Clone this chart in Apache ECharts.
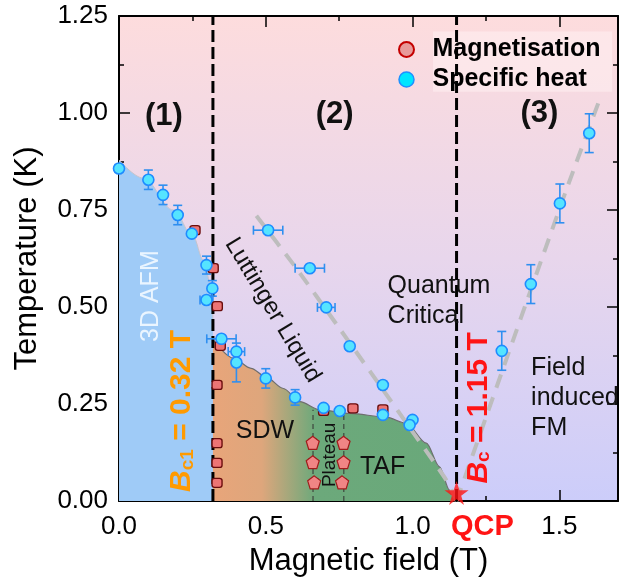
<!DOCTYPE html>
<html>
<head>
<meta charset="utf-8">
<script src="https://cdn.jsdelivr.net/npm/echarts@6/dist/echarts.min.js"></script>
<style>
  html, body { margin: 0; padding: 0; background: #ffffff; }
  #chart { width: 619px; height: 585px; }
</style>
</head>
<body>
<div id="chart"></div>
<script>
// ---- Specific heat anomalies: field (T), temperature (K) and their error bars ----
const heatField    = [0.00, 0.10, 0.15, 0.20, 0.248, 0.298, 0.318, 0.298, 0.349, 0.40, 0.40, 0.50, 0.60, 0.697, 0.752, 0.508, 0.65, 0.706, 0.786, 0.899, 0.899, 1.00, 0.99, 1.304, 1.403, 1.502, 1.602];
const heatTemp     = [0.857, 0.828, 0.789, 0.737, 0.689, 0.608, 0.548, 0.518, 0.418, 0.385, 0.357, 0.316, 0.267, 0.240, 0.232, 0.698, 0.600, 0.499, 0.399, 0.299, 0.222, 0.209, 0.196, 0.387, 0.559, 0.767, 0.948];
const heatFieldErr = [0, 0, 0, 0, 0, 0, 0, 0.022, 0.05, 0.028, 0, 0, 0, 0, 0, 0.05, 0.05, 0.03, 0.012, 0.012, 0, 0, 0, 0, 0, 0, 0];
const heatTempErr  = [0.01, 0.025, 0.025, 0.025, 0.008, 0.023, 0.02, 0, 0, 0, 0.05, 0.025, 0.02, 0, 0, 0, 0, 0, 0, 0, 0, 0, 0, 0.05, 0.05, 0.05, 0.05];

// ---- Magnetisation anomalies ----
const magField = [0.259, 0.321, 0.335, 0.345, 0.334, 0.334, 0.334, 0.334, 0.697, 0.797, 0.899];
const magTemp  = [0.698, 0.600, 0.502, 0.400, 0.299, 0.149, 0.098, 0.047, 0.232, 0.239, 0.236];
const magFieldErr = [0.008, 0.008, 0.008, 0.008, 0.008, 0.008, 0.008, 0.008, 0.008, 0.008, 0.008];

// Magnetisation plateau edges
const plateauField = [0.66, 0.66, 0.665, 0.765, 0.765, 0.76];
const plateauTemp  = [0.150, 0.100, 0.048, 0.150, 0.100, 0.048];
const plateauFieldErr = [0.012, 0.012, 0.012, 0.012, 0.012, 0.012];

// ---- Phase boundaries and crossovers ----
const afmEdgeField = [0.00, 0.083, 0.185, 0.253, 0.287, 0.315, 0.32];
const afmEdgeTemp  = [0.879, 0.832, 0.750, 0.681, 0.621, 0.552, 0.47];

const orderedEdgeField = [0.32, 0.39, 0.45, 0.50, 0.56, 0.616, 0.684, 0.786, 0.91, 0.979, 1.047, 1.092, 1.126, 1.15];
const orderedEdgeTemp  = [0.415, 0.368, 0.342, 0.320, 0.290, 0.256, 0.235, 0.226, 0.216, 0.200, 0.149, 0.088, 0.028, 0.00];

const luttingerField = [0.468, 0.60, 0.75, 0.90, 0.98, 1.115, 1.15];
const luttingerTemp  = [0.735, 0.604, 0.446, 0.286, 0.200, 0.054, 0.00];

const fmField = [1.15, 1.387, 1.523, 1.64];
const fmTemp  = [0.00, 0.510, 0.800, 1.040];

// Critical fields (T) and plateau boundaries
const Bc1 = 0.32;
const Bc = 1.15;
const plateauEdges = [0.661, 0.766];
const plateauTop = 0.235;

// Axis ranges
const fieldMax = 1.7;
const tempMax = 1.25;

const FONT = '"Liberation Sans", Arial, Helvetica, sans-serif';

const chart = echarts.init(document.getElementById('chart'), null, { renderer: 'canvas' });

const pairs = (xs, ys) => xs.map((x, i) => [x, ys[i]]);
const starPath = 'path://M50,0 L61.8,35.4 L99,35.4 L68.9,57.3 L80.3,92.7 L50,70.8 L19.7,92.7 L31.1,57.3 L1,35.4 L38.2,35.4 Z';
const pentagonPath = 'path://M0,-1 L0.951,-0.309 L0.588,0.809 L-0.588,0.809 L-0.951,-0.309 Z';

// Error bars drawn through the grid's own coordinate system
function errorBars(color, capHalf, width) {
  return function (params, api) {
    const x = api.value(0), y = api.value(1), ex = api.value(2), ey = api.value(3);
    const style = { stroke: color, lineWidth: width };
    const kids = [];
    if (ey > 0) {
      const a = api.coord([x, y + ey]), b = api.coord([x, y - ey]);
      kids.push({ type: 'line', shape: { x1: a[0], y1: a[1], x2: b[0], y2: b[1] }, style });
      kids.push({ type: 'line', shape: { x1: a[0] - capHalf, y1: a[1], x2: a[0] + capHalf, y2: a[1] }, style });
      kids.push({ type: 'line', shape: { x1: b[0] - capHalf, y1: b[1], x2: b[0] + capHalf, y2: b[1] }, style });
    }
    if (ex > 0) {
      const a = api.coord([x - ex, y]), b = api.coord([x + ex, y]);
      kids.push({ type: 'line', shape: { x1: a[0], y1: a[1], x2: b[0], y2: b[1] }, style });
      kids.push({ type: 'line', shape: { x1: a[0], y1: a[1] - capHalf, x2: a[0], y2: a[1] + capHalf }, style });
      kids.push({ type: 'line', shape: { x1: b[0], y1: b[1] - capHalf, x2: b[0], y2: b[1] + capHalf }, style });
    }
    return { type: 'group', children: kids };
  };
}

const axisBlack = { show: true, onZero: false, lineStyle: { color: '#000', width: 2 } };
const xCommon = { type: 'value', min: 0, max: fieldMax, splitLine: { show: false } };
const yCommon = { type: 'value', min: 0, max: tempMax, interval: 0.25, splitLine: { show: false } };

const option = {
  animation: false,
  grid: {
    left: 119, right: 1, top: 16, bottom: 84,
    show: true, borderWidth: 0,
    backgroundColor: new echarts.graphic.LinearGradient(0, 0, 0, 1, [
      { offset: 0, color: '#fddcdd' },
      { offset: 0.5, color: '#e8d6ec' },
      { offset: 1, color: '#cccdfa' }
    ])
  },
  legend: {
    orient: 'vertical', left: 393, top: 32, itemGap: 5,
    itemWidth: 28, itemHeight: 15,
    textStyle: { fontFamily: FONT, fontSize: 25, fontWeight: 'bold', color: '#000', lineHeight: 25, padding: [0, 0, 0, 7] },
    data: [
      { name: 'Magnetisation', icon: 'circle', itemStyle: { color: '#e89a9a', borderColor: '#c40000', borderWidth: 2 } },
      { name: 'Specific heat', icon: 'circle', itemStyle: { color: '#00e5ff', borderColor: '#1e90ff', borderWidth: 1.5 } }
    ]
  },
  xAxis: [
    Object.assign({}, xCommon, {
      position: 'bottom', interval: 0.5,
      axisLine: axisBlack,
      axisTick: { show: true, inside: true, length: 11, lineStyle: { color: '#000', width: 1.5 } },
      axisLabel: { margin: 13, fontFamily: FONT, fontSize: 26, color: '#000', showMaxLabel: false,
                   formatter: v => (Math.abs(v / 0.5 - Math.round(v / 0.5)) < 1e-6 ? v.toFixed(1) : '') },
      name: 'Magnetic field (T)', nameLocation: 'middle', nameGap: 45,
      nameTextStyle: { fontFamily: FONT, fontSize: 31, color: '#000' }
    }),
    Object.assign({}, xCommon, {
      position: 'bottom', interval: 0.25,
      axisLine: { show: false, onZero: false },
      axisTick: { show: true, inside: true, length: 5, lineStyle: { color: '#000', width: 1.5 } },
      axisLabel: { show: false }
    }),
    Object.assign({}, xCommon, {
      position: 'top', interval: 0.5,
      axisLine: axisBlack,
      axisTick: { show: true, inside: true, length: 11, lineStyle: { color: '#000', width: 1.5 } },
      axisLabel: { show: false }
    }),
    Object.assign({}, xCommon, {
      position: 'top', interval: 0.25,
      axisLine: { show: false, onZero: false },
      axisTick: { show: true, inside: true, length: 5, lineStyle: { color: '#000', width: 1.5 } },
      axisLabel: { show: false }
    })
  ],
  yAxis: [
    Object.assign({}, yCommon, {
      position: 'left',
      axisLine: axisBlack,
      axisTick: { show: true, inside: true, length: 11, lineStyle: { color: '#000', width: 1.5 } },
      minorTick: { show: true, splitNumber: 2, length: 5, lineStyle: { color: '#000', width: 1.5 } },
      axisLabel: { margin: 11, fontFamily: FONT, fontSize: 26, color: '#000', formatter: v => v.toFixed(2) },
      name: 'Temperature (K)', nameLocation: 'middle', nameGap: 76,
      nameTextStyle: { fontFamily: FONT, fontSize: 31, color: '#000' }
    }),
    Object.assign({}, yCommon, {
      position: 'right',
      axisLine: axisBlack,
      axisTick: { show: true, inside: true, length: 11, lineStyle: { color: '#000', width: 1.5 } },
      minorTick: { show: true, splitNumber: 2, length: 5, lineStyle: { color: '#000', width: 1.5 } },
      axisLabel: { show: false }
    })
  ],
  series: [
    // 3D AFM phase
    {
      type: 'line', name: 'afm', data: pairs(afmEdgeField, afmEdgeTemp),
      smooth: 0.35, smoothMonotone: 'x', symbol: 'none', silent: true, z: 1,
      lineStyle: { color: '#c4c4cc', width: 1 },
      areaStyle: { color: '#9fcbf7', opacity: 1 }
    },
    // SDW / TAF ordered phase
    {
      type: 'line', name: 'ordered', data: pairs(orderedEdgeField, orderedEdgeTemp),
      smooth: 0.3, smoothMonotone: 'x', symbol: 'none', silent: true, z: 1,
      lineStyle: { color: '#6e6e6e', width: 1.2 },
      areaStyle: {
        opacity: 1,
        color: new echarts.graphic.LinearGradient(0, 0, 1, 0, [
          { offset: 0, color: '#e8a57a' },
          { offset: 0.2, color: '#dea67c' },
          { offset: 0.42, color: '#6ca97b' },
          { offset: 1, color: '#69a87a' }
        ])
      }
    },
    // Crossover lines
    {
      type: 'line', name: 'luttinger', data: pairs(luttingerField, luttingerTemp),
      smooth: 0.2, symbol: 'none', silent: true, z: 2,
      lineStyle: { color: '#bdbdbd', width: 4, type: [14, 10] }
    },
    {
      type: 'line', name: 'fm', data: pairs(fmField, fmTemp),
      smooth: 0.2, symbol: 'none', silent: true, z: 2,
      lineStyle: { color: '#bdbdbd', width: 4, type: [14, 10] }
    },
    // Critical fields
    {
      type: 'line', name: 'Bc1', data: [[Bc1, 0], [Bc1, tempMax]], symbol: 'none', silent: true, z: 3,
      lineStyle: { color: '#000', width: 3, type: [12, 5] }
    },
    {
      type: 'line', name: 'Bc', data: [[Bc, 0], [Bc, tempMax]], symbol: 'none', silent: true, z: 3,
      lineStyle: { color: '#000', width: 3, type: [12, 5] }
    },
    // Plateau boundaries
    {
      type: 'line', name: 'plateauL', data: [[plateauEdges[0], 0], [plateauEdges[0], plateauTop]], symbol: 'none', silent: true, z: 3,
      lineStyle: { color: '#333', width: 1, type: [5, 4] }
    },
    {
      type: 'line', name: 'plateauR', data: [[plateauEdges[1], 0], [plateauEdges[1], plateauTop]], symbol: 'none', silent: true, z: 3,
      lineStyle: { color: '#333', width: 1, type: [5, 4] }
    },
    // Error bars
    {
      type: 'custom', name: 'magErr', z: 4, silent: true,
      renderItem: errorBars('#4a0d0d', 4, 1.5),
      encode: { x: 0, y: 1 },
      data: magField.map((f, i) => [f, magTemp[i], magFieldErr[i], 0]).concat(
            plateauField.map((f, i) => [f, plateauTemp[i], plateauFieldErr[i], 0]))
    },
    {
      type: 'custom', name: 'heatErr', z: 4, silent: true,
      renderItem: errorBars('#2f8ff0', 4.5, 1.6),
      encode: { x: 0, y: 1 },
      data: heatField.map((f, i) => [f, heatTemp[i], heatFieldErr[i], heatTempErr[i]])
    },
    // Data points
    {
      type: 'scatter', name: 'Magnetisation', z: 5,
      symbol: 'roundRect', symbolSize: [10, 9],
      itemStyle: { color: '#ec7474', borderColor: '#6a0c0c', borderWidth: 1.3, opacity: 1 },
      data: pairs(magField, magTemp)
    },
    {
      type: 'scatter', name: 'Magnetisation', z: 5,
      symbol: pentagonPath, symbolSize: 13,
      itemStyle: { color: '#f08585', borderColor: '#a01c1c', borderWidth: 1.2, opacity: 1 },
      data: pairs(plateauField, plateauTemp)
    },
    {
      type: 'scatter', name: 'Specific heat', z: 6,
      symbol: 'circle', symbolSize: 11,
      itemStyle: { color: '#55e4ff', borderColor: '#1e8cff', borderWidth: 1.6, opacity: 1 },
      data: pairs(heatField, heatTemp)
    },
    // Quantum critical point
    {
      type: 'scatter', name: 'QCP', z: 7, clip: false, silent: true,
      symbol: starPath, symbolSize: 24, symbolOffset: [0, -8],
      itemStyle: { color: '#ff1414' },
      data: [[Bc, 0]]
    }
  ]
};

chart.setOption(option);

// Annotations, anchored in field / temperature units
const notes = [
  { at: [0.153, 0.99], text: '(1)', font: 'bold', size: 31, color: '#111' },
  { at: [0.735, 0.995], text: '(2)', font: 'bold', size: 31, color: '#111' },
  { at: [1.432, 1.0], text: '(3)', font: 'bold', size: 31, color: '#111' },
  { at: [0.11, 0.528], text: '3D AFM', size: 25, color: '#eaf5ff', rot: 90 },
  { at: [0.524, 0.492], text: 'Luttinger Liquid', size: 24, color: '#111', rot: -59 },
  { at: [0.915, 0.514], text: 'Quantum\nCritical', size: 25, color: '#111', align: 'left', lh: 30 },
  { at: [1.404, 0.265], text: 'Field\ninduced\nFM', size: 25, color: '#111', align: 'left', lh: 30 },
  { at: [0.497, 0.179], text: 'SDW', size: 25, color: '#111' },
  { at: [0.898, 0.088], text: 'TAF', size: 25, color: '#111' },
  { at: [0.718, 0.119], text: 'Plateau', size: 19, color: '#111', rot: 90 },
  { at: [1.238, -0.067], text: 'QCP', font: 'bold', size: 29, color: '#ff1414' }
];

function buildGraphics() {
  const px = p => chart.convertToPixel({ gridIndex: 0 }, p);
  const els = notes.map(n => {
    const p = px(n.at);
    return {
      type: 'text', x: p[0], y: p[1], z: 100, silent: true,
      rotation: (n.rot || 0) * Math.PI / 180,
      style: {
        text: n.text, fill: n.color, align: n.align || 'center', verticalAlign: 'middle',
        font: (n.font || 'normal') + ' ' + n.size + 'px ' + FONT,
        lineHeight: n.lh || n.size
      }
    };
  });
  // Critical-field labels with subscripts
  const criticalLabel = (at, sub, rest, color) => {
    const p = px(at);
    return {
      type: 'text', x: p[0], y: p[1], z: 100, silent: true, rotation: Math.PI / 2,
      style: {
        text: '{b|B}{s|' + sub + '}{n|' + rest + '}',
        align: 'center', verticalAlign: 'middle',
        rich: {
          b: { fill: color, fontFamily: FONT, fontSize: 30, fontWeight: 'bold', fontStyle: 'italic', lineHeight: 32, verticalAlign: 'bottom' },
          s: { fill: color, fontFamily: FONT, fontSize: 19, fontWeight: 'bold', lineHeight: 24, verticalAlign: 'bottom' },
          n: { fill: color, fontFamily: FONT, fontSize: 30, fontWeight: 'bold', lineHeight: 32, verticalAlign: 'bottom' }
        }
      }
    };
  };
  els.push(criticalLabel([0.211, 0.232], 'c1', ' = 0.32 T', '#ff9a00'));
  els.push(criticalLabel([1.221, 0.24], 'c', ' = 1.15 T', '#ff1414'));
  // soft panel behind the legend text
  const a = px([1.07, 1.21]), b = px([1.68, 1.055]);
  els.unshift({ type: 'rect', z: 0, silent: true,
    shape: { x: a[0], y: a[1], width: b[0] - a[0], height: b[1] - a[1] },
    style: { fill: 'rgba(255,240,242,0.55)' } });
  chart.setOption({ graphic: { elements: els } });
}
buildGraphics();
</script>
</body>
</html>
